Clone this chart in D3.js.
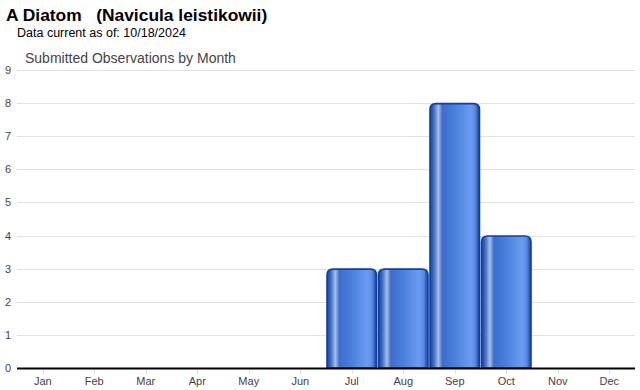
<!DOCTYPE html>
<html>
<head>
<meta charset="utf-8">
<script src="https://cdn.jsdelivr.net/npm/d3@7"></script>
<style>
  body { margin: 0; background: #fff; font-family: "Liberation Sans", Arial, sans-serif; }
  .grid line { stroke: #e2e2e2; }
  .axis text { fill: #444; font-size: 11px; }
</style>
</head>
<body>
<div id="chart"></div>
<script>
var months = ["Jan", "Feb", "Mar", "Apr", "May", "Jun", "Jul", "Aug", "Sep", "Oct", "Nov", "Dec"];
var counts = [0, 0, 0, 0, 0, 0, 3, 3, 8, 4, 0, 0];
var yTicks = [0, 1, 2, 3, 4, 5, 6, 7, 8, 9];

var width = 640, height = 390;
var margin = {top: 70, right: 5, bottom: 22, left: 17};
var plotW = 635 - margin.left;
var plotH = 368 - margin.top;

var svg = d3.select("#chart").append("svg")
    .attr("width", width)
    .attr("height", height);

// bar gradient - dark edges, light streak on the left
var defs = svg.append("defs");
var grad = defs.append("linearGradient")
    .attr("id", "barGrad")
    .attr("x1", "0%").attr("x2", "100%")
    .attr("y1", "0%").attr("y2", "0%");
[["0%", "#17459f"], ["7%", "#3a68c2"], ["17%", "#a8bee4"], ["25%", "#3d6dcc"], ["50%", "#4a80dc"], ["82%", "#6c9cf0"], ["91%", "#5a8ae6"], ["100%", "#15429f"]]
    .forEach(s => grad.append("stop").attr("offset", s[0]).attr("stop-color", s[1]));

// titles
svg.append("text")
    .attr("x", 6).attr("y", 21)
    .style("font-size", "17.4px").style("font-weight", "bold").style("fill", "#000")
    .attr("xml:space", "preserve")
    .text("A Diatom   (Navicula leistikowii)");

svg.append("text")
    .attr("x", 17).attr("y", 37)
    .style("font-size", "12.5px").style("fill", "#000")
    .text("Data current as of: 10/18/2024");

svg.append("text")
    .attr("x", 25).attr("y", 63)
    .style("font-size", "14px").style("fill", "#444")
    .text("Submitted Observations by Month");

var plot = svg.append("g")
    .attr("transform", `translate(${margin.left},${margin.top})`);

var x = d3.scaleBand()
    .domain(months)
    .range([0, plotW])
    .paddingInner(0.02)
    .paddingOuter(0.01);

var y = d3.scaleLinear()
    .domain([0, 9])
    .range([plotH, 0]);

// gridlines
plot.append("g")
    .attr("class", "grid")
    .selectAll("line")
    .data(yTicks.filter(d => d > 0))
    .enter().append("line")
    .attr("x1", 0).attr("x2", plotW)
    .attr("y1", d => Math.round(y(d)) + 0.5)
    .attr("y2", d => Math.round(y(d)) + 0.5);

// y labels
plot.append("g")
    .attr("class", "axis")
    .selectAll("text")
    .data(yTicks)
    .enter().append("text")
    .attr("x", -6)
    .attr("y", d => y(d) + 4)
    .attr("text-anchor", "end")
    .text(d => d);

// bars with rounded tops
var r = 6;
plot.append("g")
    .selectAll("path")
    .data(months.map((m, i) => ({month: m, value: counts[i]})).filter(d => d.value > 0))
    .enter().append("path")
    .attr("d", d => {
        var x0 = x(d.month) + 0.5, x1 = x(d.month) + x.bandwidth() - 0.5;
        var y0 = y(d.value) + 0.5, yb = y(0);
        return `M${x0},${yb} L${x0},${y0 + r} Q${x0},${y0} ${x0 + r},${y0} L${x1 - r},${y0} Q${x1},${y0} ${x1},${y0 + r} L${x1},${yb} Z`;
    })
    .attr("fill", "url(#barGrad)")
    .attr("stroke", "#0f3f9e")
    .attr("stroke-width", 1.6);

// x axis
plot.append("line")
    .attr("x1", 0).attr("x2", plotW)
    .attr("y1", plotH + 0.5).attr("y2", plotH + 0.5)
    .attr("stroke", "#000").attr("stroke-width", 2);

var xAx = plot.append("g").attr("class", "axis");
xAx.selectAll("line")
    .data(months)
    .enter().append("line")
    .attr("x1", d => Math.round(x(d) + x.bandwidth() / 2) + 0.5)
    .attr("x2", d => Math.round(x(d) + x.bandwidth() / 2) + 0.5)
    .attr("y1", plotH + 2).attr("y2", plotH + 6)
    .attr("stroke", "#e0e0e0");

xAx.selectAll("text")
    .data(months)
    .enter().append("text")
    .attr("x", d => x(d) + x.bandwidth() / 2)
    .attr("y", plotH + 17)
    .attr("text-anchor", "middle")
    .text(d => d);
</script>
</body>
</html>
